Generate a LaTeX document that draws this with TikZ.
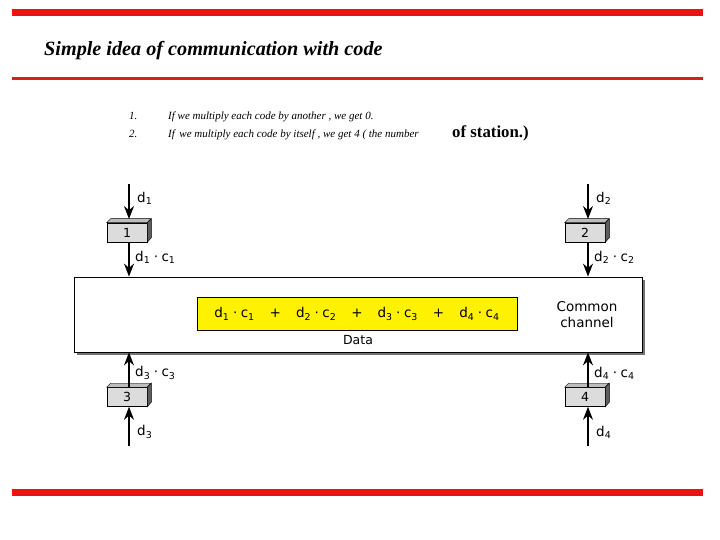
\documentclass[tikz,border=0pt]{standalone}
\usepackage{fontspec}
\setmainfont{Liberation Serif}
\newfontfamily\diag{DejaVu Sans}
\usetikzlibrary{arrows.meta,shadows}
\definecolor{redbar}{HTML}{EE1111}
\definecolor{redbar2}{HTML}{CC2222}
\definecolor{boxfront}{HTML}{DCDCDC}
\definecolor{boxtop}{HTML}{BDBDBD}
\definecolor{boxside}{HTML}{5E5E5E}
\newcommand{\dd}[1]{d\textsubscript{#1}}
\newcommand{\dc}[1]{d\textsubscript{#1}\hspace{3.5pt}·\hspace{3.5pt}c\textsubscript{#1}}
\newcommand{\pl}{\hspace{15pt}+\hspace{15pt}}
\tikzset{
  stn/.style={draw=black, fill=boxfront, line width=0.6pt, minimum width=40pt, minimum height=19pt, inner sep=0pt, font=\diag\fontsize{12.5}{13}\selectfont},
  arr/.style={line width=1.3pt, -{Stealth[length=13pt,width=10pt]}},
  lab/.style={font=\diag\fontsize{13.5}{14}\selectfont, anchor=west, inner sep=0pt},
}
\begin{document}
\begin{tikzpicture}[x=1pt,y=-1pt]
\useasboundingbox (0,0) rectangle (720,540);
% bars
\fill[redbar] (12,9.5) rectangle (703,16);
\fill[redbar2] (12,77) rectangle (703,80);
\fill[redbar] (12,489) rectangle (703,496);
% title
\node[anchor=base west, inner sep=0pt, font=\fontsize{20.2}{22}\selectfont\bfseries\itshape] (title) at (44,56) {Simple idea of communication with code};
% list
\node[anchor=base west, inner sep=0pt, font=\fontsize{11}{12}\selectfont\itshape] (n1) at (129,120) {1.};
\node[anchor=base west, inner sep=0pt, font=\fontsize{11}{12}\selectfont\itshape] (n2) at (129,138) {2.};
\node[anchor=base west, inner sep=0pt, font=\fontsize{11}{12}\selectfont\itshape] (t1) at (168,120) {If we multiply each code by another , we get 0.};
\node[anchor=base west, inner sep=0pt, font=\fontsize{11}{12}\selectfont\itshape] (t2) at (168,138) {If\, we multiply each code by itself , we get 4 ( the number};
\node[anchor=base west, inner sep=0pt, font=\fontsize{16.8}{18}\selectfont\bfseries] (t3) at (452,138) {of station.)};
% channel
\node[draw=black, fill=white, line width=0.8pt, minimum width=568pt, minimum height=75pt, drop shadow={shadow xshift=2.5pt, shadow yshift=-2.5pt, fill=black!55, opacity=1}] (chan) at (358,314.5) {};
\node[draw=black, fill=yellow, line width=0.6pt, minimum width=320pt, minimum height=33pt, inner sep=0pt, font=\diag\fontsize{13.5}{14}\selectfont] (sum) at (357,314) {\dc{1}\pl\dc{2}\pl\dc{3}\pl\dc{4}};
\node[font=\diag\fontsize{12.5}{13}\selectfont, inner sep=0pt] (data) at (358,340) {Data};
\node[font=\diag\fontsize{13.5}{15.5}\selectfont, align=center, inner sep=0pt] (cc) at (587,314.5) {Common\\channel};
% stations
\foreach \n/\x/\y in {1/127/232.5, 2/585/232.5, 3/127/397, 4/585/397} {
  \node[stn] (b\n) at (\x,\y) {\n};
  \fill[boxtop, draw=black, line width=0.4pt] (b\n.north west) -- ++(4,-4) -- ++(40,0) -- (b\n.north east) -- cycle;
  \fill[boxside, draw=black, line width=0.4pt] (b\n.north east) -- ++(4,-4) -- ++(0,19) -- (b\n.south east) -- cycle;
}
\coordinate (i1) at (129,184);
\coordinate (i2) at (588,184);
\coordinate (i3) at (129,446);
\coordinate (i4) at (588,446);
\draw[arr] (i1) -- (129,219);
\draw[arr] (i2) -- (588,219);
\draw[arr] (b1.south -| i1) -- (chan.north -| i1);
\draw[arr] (b2.south -| i2) -- (chan.north -| i2);
\draw[arr] (b3.north -| i3) -- (chan.south -| i3);
\draw[arr] (b4.north -| i4) -- (chan.south -| i4);
\draw[arr] (i3) -- (b3.south -| i3);
\draw[arr] (i4) -- (b4.south -| i4);
% labels
\node[lab] (l1) at (137,198) {\dd{1}};
\node[lab] (l2) at (596,198) {\dd{2}};
\node[lab] (l1c) at (135,257) {\dc{1}};
\node[lab] (l2c) at (594,257) {\dc{2}};
\node[lab] (l3c) at (135,373) {\dc{3}};
\node[lab] (l4c) at (594,373) {\dc{4}};
\node[lab] (l3) at (137,432) {\dd{3}};
\node[lab] (l4) at (596,432) {\dd{4}};
\end{tikzpicture}
\end{document}
